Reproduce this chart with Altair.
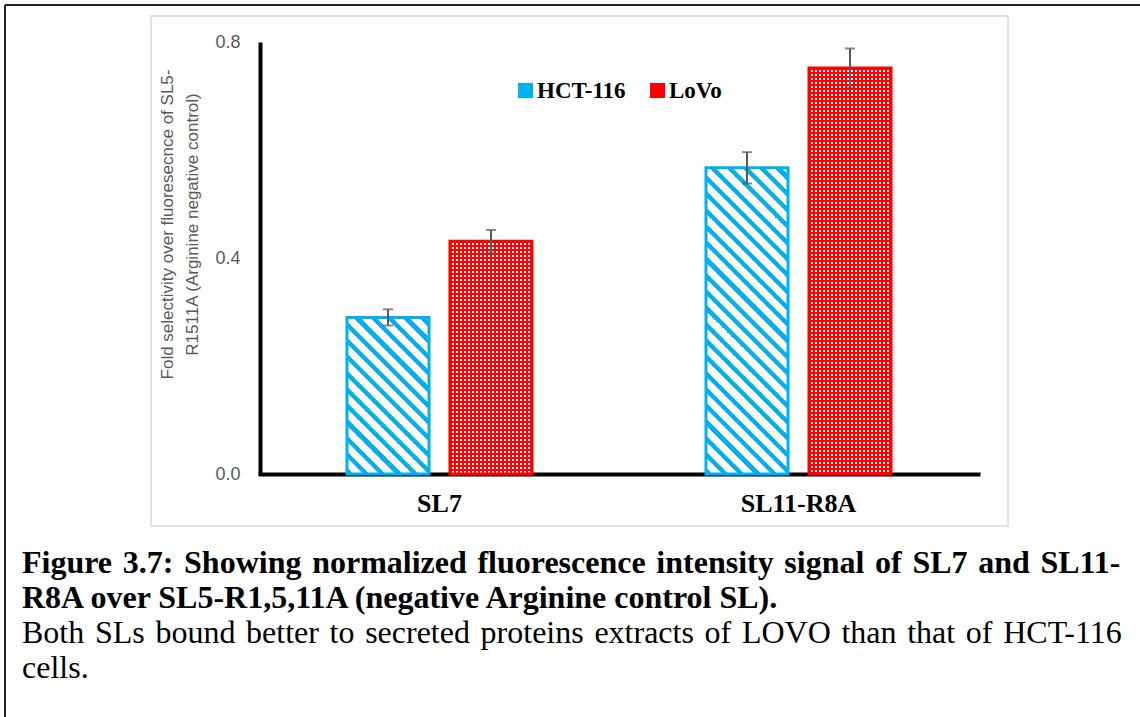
import math
import altair as alt
import pandas as pd

# ---- data -------------------------------------------------------------
categories = ["SL7", "SL11-R8A"]
series = ["HCT-116", "LoVo"]
hct_values = [0.290, 0.567]
lovo_values = [0.431, 0.752]
hct_errors = [0.015, 0.029]
lovo_errors = [0.021, 0.036]

y_ticks = [0.0, 0.4, 0.8]
y_title = ["Fold selectivity over fluoresecnce  of SL5-",
           "R1511A (Arginine negative control)"]

# justified caption lines use a slightly wider space (U+2004)
caption_bold = [
    "Figure\u20043.7:\u2004Showing\u2004normalized\u2004fluorescence\u2004intensity\u2004signal\u2004of\u2004SL7\u2004and\u2004SL11-",
    "R8A over SL5-R1,5,11A (negative Arginine control SL).",
]
caption_plain = [
    "Both\u2004SLs\u2004bound\u2004better\u2004to\u2004secreted\u2004proteins\u2004extracts\u2004of\u2004LOVO\u2004than\u2004that\u2004of\u2004HCT-116",
    "cells.",
]

# ---- layout -------------------------------------------------------------
W, H = 718, 432          # plot area
LEFT, TOP = 260, 42      # plot origin on the page
PAGE_W, PAGE_H = 1140, 717
Y_MAX = 0.8

BLUE = "#00B0F0"
RED = "#FF0000"
GREY = "#595959"
SERIF = "Liberation Serif"
SANS = "Liberation Sans"

rows = []
for i, cat in enumerate(categories):
    rows.append({"category": cat, "series": series[0],
                 "value": hct_values[i], "err": hct_errors[i]})
    rows.append({"category": cat, "series": series[1],
                 "value": lovo_values[i], "err": lovo_errors[i]})
df = pd.DataFrame(rows)
df["lo"] = df["value"] - df["err"]
df["hi"] = df["value"] + df["err"]

one = pd.DataFrame({"k": [0]})

# band geometry: each category band is W/2 wide, bars 82 px with a 21 px gap
STEP = W / len(categories)
BAR_W = 82.0
GAP = 21.0
inner = GAP / (BAR_W + GAP)
outer = (STEP / (BAR_W + GAP) - 2 + inner) / 2

x_axis = alt.Axis(title=None, labelAngle=0, labelFont=SERIF, labelFontSize=26,
                  labelFontWeight="bold", labelColor="black", labelPadding=16,
                  ticks=False, grid=False, domainColor="black", domainWidth=4,
                  domainCap="square")
y_axis = alt.Axis(values=y_ticks, format=".1f", labelFont=SANS, labelFontSize=18,
                  labelColor=GREY, labelPadding=20, ticks=False, grid=False,
                  domainColor="black", domainWidth=4,
                  title=y_title, titleFont=SANS, titleFontSize=17,
                  titleFontWeight="normal", titleColor=GREY, titleAngle=270,
                  titleX=-93, titleY=182, titleAlign="center",
                  titleBaseline="middle", titleLineHeight=25)

x_enc = alt.X("category:N", sort=categories,
              scale=alt.Scale(paddingInner=0, paddingOuter=0), axis=x_axis)
xo_enc = alt.XOffset("series:N", sort=series,
                     scale=alt.Scale(paddingInner=inner, paddingOuter=outer))
y_scale = alt.Scale(domain=[0, Y_MAX])


def diag_hatch(w, h, color, period=16.3, frac=0.38):
    """Diagonal '\\' stripes, built as a hard-stop linear gradient."""
    t = (w + h) / (w * w + h * h)
    n = (w + h) / period
    stops = []
    for i in range(int(math.ceil(n))):
        a, b, c = i / n, min((i + frac) / n, 1), min((i + 1) / n, 1)
        stops += [(min(a, 1), color), (b, color), (b, "#FFFFFF"), (c, "#FFFFFF")]
    return {"gradient": "linear", "x1": 0, "y1": 1, "x2": t * w, "y2": 1 - t * h,
            "stops": [{"offset": o, "color": col} for o, col in stops]}


def bands(length, color, gap_color, vertical, period=4.0, frac=0.5):
    """Straight stripes across a bar (used twice to build a dotted grid)."""
    n = length / period
    stops = []
    for i in range(int(math.ceil(n))):
        a, b, c = i / n, min((i + frac) / n, 1), min((i + 1) / n, 1)
        stops += [(min(a, 1), color), (b, color), (b, gap_color), (c, gap_color)]
    g = {"gradient": "linear", "x1": 0, "y1": 0,
         "stops": [{"offset": o, "color": col} for o, col in stops]}
    if vertical:
        g.update({"x2": 1, "y2": 0})
    else:
        g.update({"x2": 0, "y2": 1})
    return g


layers = []

# light frame around the chart object and the page edges
layers.append(alt.Chart(one).mark_rect(fill=None, stroke="#D9D9D9", strokeWidth=1.5).encode(
    x=alt.value(151 - LEFT), x2=alt.value(1008 - LEFT),
    y=alt.value(16 - TOP), y2=alt.value(526 - TOP)))
layers.append(alt.Chart(one).mark_rule(color="#222222", strokeWidth=2).encode(
    x=alt.value(5 - LEFT), x2=alt.value(PAGE_W - LEFT),
    y=alt.value(5 - TOP), y2=alt.value(5 - TOP)))
layers.append(alt.Chart(one).mark_rule(color="#222222", strokeWidth=2).encode(
    x=alt.value(5 - LEFT), x2=alt.value(5 - LEFT),
    y=alt.value(5 - TOP), y2=alt.value(PAGE_H - TOP)))

# bars, one layer each so every fill pattern fits its own bar
for r in rows:
    h = r["value"] / Y_MAX * H
    sel = (alt.datum.category == r["category"]) & (alt.datum.series == r["series"])
    base = alt.Chart(df).transform_filter(sel)
    enc = dict(x=x_enc, xOffset=xo_enc,
               y=alt.Y("value:Q", scale=y_scale, axis=y_axis))
    if r["series"] == series[0]:
        layers.append(base.mark_bar(fill=diag_hatch(BAR_W, h, BLUE),
                                    stroke=BLUE, strokeWidth=3).encode(**enc))
    else:
        layers.append(base.mark_bar(fill=bands(BAR_W, RED, "#FFFFFF", True),
                                    strokeWidth=0).encode(**enc))
        layers.append(base.mark_bar(fill=bands(h, RED, "rgba(255,0,0,0)", False),
                                    stroke=RED, strokeWidth=3).encode(**enc))

# error bars
err_y = alt.Y("lo:Q", scale=y_scale, axis=y_axis)
layers.append(alt.Chart(df).mark_rule(color=GREY, strokeWidth=2).encode(
    x=x_enc, xOffset=xo_enc, y=err_y, y2="hi:Q"))
for fld in ["lo", "hi"]:
    layers.append(alt.Chart(df).mark_tick(color=GREY, thickness=2, size=10).encode(
        x=x_enc, xOffset=xo_enc, y=alt.Y(f"{fld}:Q", scale=y_scale, axis=y_axis)))

# legend
legend_items = [(series[0], BLUE, 518), (series[1], RED, 650)]
for name, col, x0 in legend_items:
    layers.append(alt.Chart(one).mark_rect(fill=col).encode(
        x=alt.value(x0 - LEFT), x2=alt.value(x0 + 15 - LEFT),
        y=alt.value(83 - TOP), y2=alt.value(98 - TOP)))
    layers.append(alt.Chart(one).mark_text(
        align="left", baseline="alphabetic", font=SERIF, fontSize=23,
        fontWeight="bold", color="black").encode(
        x=alt.value(x0 + 19 - LEFT), y=alt.value(98 - TOP), text=alt.value(name)))

# caption
cap_lines = [(t, "bold") for t in caption_bold] + [(t, "normal") for t in caption_plain]
for i, (txt, wt) in enumerate(cap_lines):
    layers.append(alt.Chart(one).mark_text(
        align="left", baseline="alphabetic", font=SERIF, fontSize=32,
        fontWeight=wt, color="black").encode(
        x=alt.value(22 - LEFT), y=alt.value(573 + 35 * i - TOP), text=alt.value(txt)))

chart = alt.layer(*layers).properties(
    width=W, height=H, background="white", autosize="none",
    padding={"left": LEFT, "top": TOP, "right": PAGE_W - LEFT - W,
             "bottom": PAGE_H - TOP - H},
).configure_view(stroke=None)

chart.save("out.html", embed_options={"renderer": "svg", "actions": False})
